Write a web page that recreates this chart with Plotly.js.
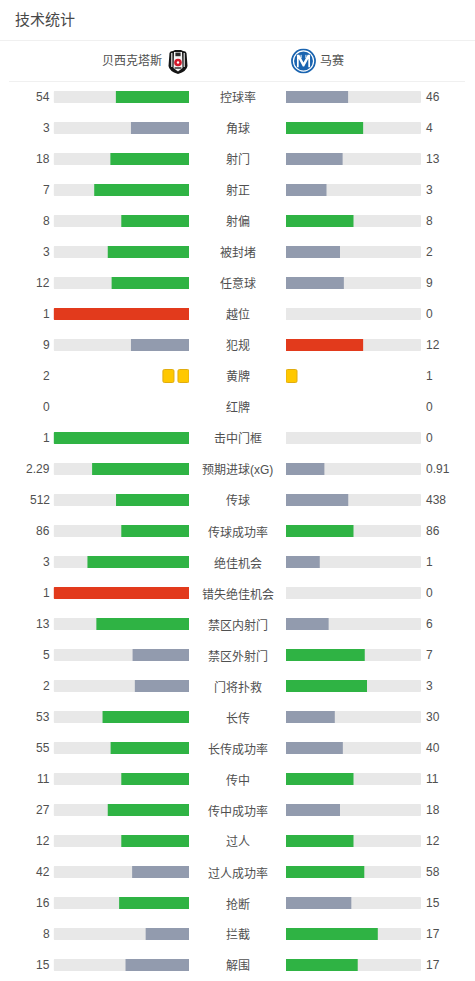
<!DOCTYPE html>
<html><head><meta charset="utf-8">
<script src="https://cdn.plot.ly/plotly-3.0.1.min.js"></script>
<style>html,body{margin:0;padding:0;background:#fff}#c{width:475px;height:981px}</style></head>
<body><div id="c"></div>
<script>
const titleText = '技术统计';
const homeTeam = '贝西克塔斯';
const awayTeam = '马赛';
const categories = ['控球率','角球','射门','射正','射偏','被封堵','任意球','越位','犯规','黄牌','红牌','击中门框','预期进球(xG)','传球','传球成功率','绝佳机会','错失绝佳机会','禁区内射门','禁区外射门','门将扑救','长传','长传成功率','传中','传中成功率','过人','过人成功率','抢断','拦截','解围'];
const homeValues = [54,3,18,7,8,3,12,1,9,2,0,1,2.29,512,86,3,1,13,5,2,53,55,11,27,12,42,16,8,15];
const awayValues = [46,4,13,3,8,2,9,0,12,1,0,0,0.91,438,86,1,0,6,7,3,30,40,11,18,12,58,15,17,17];
const redStats = ['越位','犯规','错失绝佳机会'];
const cardStats = ['黄牌','红牌'];

const W=475,H=981;
const GREEN='#2fb344',GREY='#929bae',RED='#e23a1c',TRACK='#e8e8e8',TXT='#505050';
const FONT='"Liberation Sans","Noto Sans CJK SC",sans-serif';
const topPx=81, rowPx=31, firstRow=97;
const yTop=-(firstRow-topPx)/rowPx;
const yBot=(H-firstRow)/rowPx;
const idx=categories.map((_,i)=>i);
const isCard=c=>cardStats.includes(c);
const share=(a,b)=>(a+b)>0?a/(a+b):0;
const col=(mine,other,cat)=>{
  if(mine<other) return GREY;
  return redStats.includes(cat)?RED:GREEN;
};
const barW=12/rowPx;
const plotIdx=idx.filter(i=>!isCard(categories[i]));
function side(vals,others,xa){
  return [
   {type:'bar',orientation:'h',xaxis:xa,yaxis:'y',y:plotIdx,x:plotIdx.map(()=>1),width:barW,
    marker:{color:TRACK,cornerradius:1},hoverinfo:'skip'},
   {type:'bar',orientation:'h',xaxis:xa,yaxis:'y',y:plotIdx,x:plotIdx.map(i=>share(vals[i],others[i])),width:barW,
    marker:{color:plotIdx.map(i=>col(vals[i],others[i],categories[i])),cornerradius:1},hoverinfo:'skip'}
  ];
}
function cards(vals,xa){
  const xs=[],ys=[],bs=[];
  const cw=11/135,step=15/135;
  idx.filter(i=>categories[i]==='黄牌').forEach(i=>{
    for(let k=0;k<vals[i];k++){xs.push(cw);ys.push(i);bs.push(k*step);}
  });
  return {type:'bar',orientation:'h',xaxis:xa,yaxis:'y',y:ys,x:xs,base:bs,width:13/rowPx,
    marker:{color:'#ffc800',line:{color:'#e0ac10',width:1},cornerradius:1.5},hoverinfo:'skip'};
}
const data=[...side(homeValues,awayValues,'x'),...side(awayValues,homeValues,'x2'),cards(homeValues,'x'),cards(awayValues,'x2')];

const ann=[];
idx.forEach(i=>{
  ann.push({x:0.5,xref:'paper',y:i,yref:'y',yshift:-1,text:categories[i],showarrow:false,xanchor:'center',yanchor:'middle',font:{size:12,color:TXT,family:FONT}});
  ann.push({x:50/W,xref:'paper',y:i,yref:'y',text:String(homeValues[i]),showarrow:false,xanchor:'right',yanchor:'middle',font:{size:12,color:TXT,family:FONT},borderpad:0,borderwidth:0});
  ann.push({x:425/W,xref:'paper',y:i,yref:'y',text:String(awayValues[i]),showarrow:false,xanchor:'left',yanchor:'middle',font:{size:12,color:TXT,family:FONT},borderpad:0});
});
const px=(x)=>x/W, py=(y)=>1-y/H;
ann.push({x:px(14),xref:'paper',y:py(20),yref:'paper',text:titleText,showarrow:false,xanchor:'left',yanchor:'middle',font:{size:15,color:'#484848',family:FONT},borderpad:0});
ann.push({x:px(163),xref:'paper',y:py(61),yref:'paper',text:homeTeam,showarrow:false,xanchor:'right',yanchor:'middle',font:{size:12,color:TXT,family:FONT},borderpad:0});
ann.push({x:px(319),xref:'paper',y:py(61),yref:'paper',text:awayTeam,showarrow:false,xanchor:'left',yanchor:'middle',font:{size:12,color:TXT,family:FONT},borderpad:0});

const bjk='<svg xmlns="http://www.w3.org/2000/svg" viewBox="0 0 20 25"><path d="M1.5 4 Q2 2 5 2 L7 1 L13 1 L15 2 Q18 2 18.5 4 L19.5 17 Q19 22 10 25 Q1 22 0.5 17Z" fill="#151515"/><rect x="3.2" y="4" width="1.2" height="14" fill="#e8e8e8"/><rect x="15.6" y="4" width="1.2" height="14" fill="#e8e8e8"/><path d="M6 3 L14 3 L14.5 19 L10 22.5 L5.5 19Z" fill="#f4f4f4"/><rect x="7.4" y="3.6" width="5.2" height="3.6" fill="#2a2a2a"/><circle cx="10" cy="13.5" r="3.8" fill="#d3182a"/><circle cx="10" cy="13.5" r="1.2" fill="#fff"/><rect x="6.6" y="18.2" width="6.8" height="1.6" fill="#444"/></svg>';
const om='<svg xmlns="http://www.w3.org/2000/svg" viewBox="0 0 26 26"><circle cx="13" cy="13" r="12" fill="#fff" stroke="#1a64b0" stroke-width="1.8"/><circle cx="13" cy="13" r="9.8" fill="#1a64b0"/><path d="M6.2 19.4 L6.2 6.6 L8.6 6.6 L13 14.5 L17.4 6.6 L19.8 6.6 L19.8 19.4 L18 19.4 L18 10.6 L13.7 18.6 L12.3 18.6 L8 10.6 L8 19.4Z" fill="#fff"/><rect x="10" y="6.6" width="1" height="3.4" fill="#fff"/><rect x="15" y="6.6" width="1" height="3.4" fill="#fff"/></svg>';
const uri=s=>'data:image/svg+xml;utf8,'+encodeURIComponent(s);

const layout={
  width:W,height:H,margin:{l:0,r:0,t:0,b:0},paper_bgcolor:'#fff',plot_bgcolor:'#fff',
  barmode:'overlay',showlegend:false,
  font:{family:FONT,color:TXT},
  xaxis:{domain:[53.6/W,189/W],range:[1,0],visible:false,fixedrange:true},
  xaxis2:{domain:[286/W,421/W],range:[0,1],visible:false,fixedrange:true,anchor:'y'},
  yaxis:{domain:[0,1-topPx/H],range:[yBot,yTop],visible:false,fixedrange:true},
  annotations:ann,
  shapes:[
    {type:'line',xref:'paper',yref:'paper',x0:0,x1:1,y0:py(40.5),y1:py(40.5),line:{color:'#f0f0f0',width:1}},
    {type:'line',xref:'paper',yref:'paper',x0:px(9),x1:px(465),y0:py(81.5),y1:py(81.5),line:{color:'#f0f0f0',width:1}}
  ],
  images:[
    {source:uri(bjk),xref:'paper',yref:'paper',x:px(168),y:py(49),sizex:px(20),sizey:25/H,xanchor:'left',yanchor:'top',sizing:'contain',layer:'above'},
    {source:uri(om),xref:'paper',yref:'paper',x:px(291),y:py(48.5),sizex:px(25),sizey:25/H,xanchor:'left',yanchor:'top',sizing:'contain',layer:'above'}
  ]
};
Plotly.newPlot('c',data,layout,{displayModeBar:false,staticPlot:true});
</script></body></html>
